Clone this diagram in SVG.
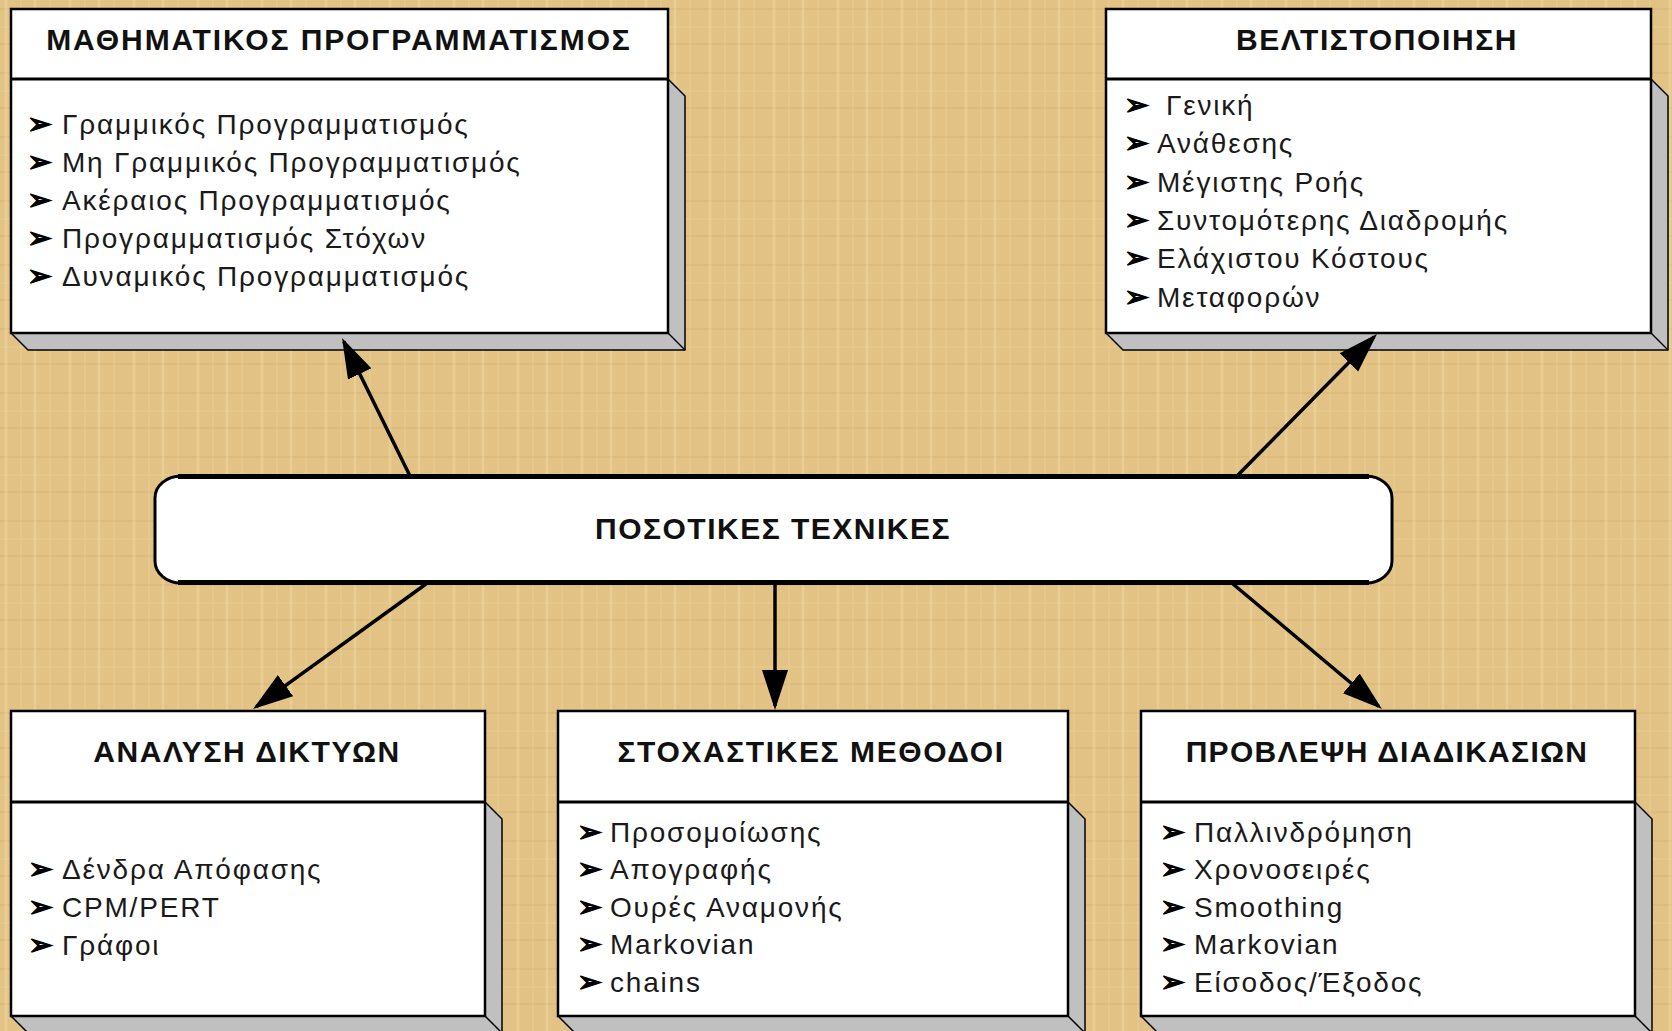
<svg xmlns="http://www.w3.org/2000/svg" width="1672" height="1031" viewBox="0 0 1672 1031">
<style>
.t{font-family:"Liberation Sans",Arial,sans-serif;font-weight:bold;font-size:30px;letter-spacing:1.6px;text-anchor:middle;fill:#111}
.i{font-family:"Liberation Sans",Arial,sans-serif;font-size:28px;letter-spacing:1.8px;fill:#1a1a1a}
.b{font-family:"DejaVu Sans",sans-serif;font-size:30px;fill:#000;stroke:#000;stroke-width:1.3}
.sh{fill:#C0C0C0;stroke:#000;stroke-width:1.5;stroke-linejoin:round}
.bx{fill:#fff;stroke:#000;stroke-width:2.5}
.dv{stroke:#000;stroke-width:3}
.cn{stroke:#000;stroke-width:3.5;fill:none;marker-end:url(#ah)}
</style>
<defs>
<pattern id="pap" width="64" height="64" patternUnits="userSpaceOnUse">
<rect width="64" height="64" fill="#E3C385"/>
<path d="M0 9H64M0 44H64" stroke="#CFAA68" stroke-width="1.5" opacity=".4"/>
<path d="M6 0V64M35 0V64" stroke="#F0DAA5" stroke-width="2.5" opacity=".45"/>
<path d="M0 27H64M21 0V64M50 0V64" stroke="#EDD59E" stroke-width="1.5" opacity=".35"/>
</pattern>
<marker id="ah" markerUnits="userSpaceOnUse" viewBox="0 0 40 28" markerWidth="40" markerHeight="28" refX="36" refY="14" orient="auto">
<path d="M0 1L40 14L0 27Z" fill="#000"/>
</marker>
</defs>
<rect width="1672" height="1031" fill="url(#pap)"/>

<g id="box-math">
<polygon class="sh" points="668,79 685,96 685,350 28,350 11,333"/>
<line x1="668" y1="333" x2="685" y2="350" stroke="#000" stroke-width="1.5"/>
<rect class="bx" x="11" y="9" width="657" height="324"/>
<line class="dv" x1="11" y1="79" x2="668" y2="79"/>
<text class="t" x="339" y="50" style="letter-spacing:1.9px">ΜΑΘΗΜΑΤΙΚΟΣ ΠΡΟΓΡΑΜΜΑΤΙΣΜΟΣ</text>
<text class="b" x="27" y="134">➢</text><text class="i" x="62" y="134">Γραμμικός Προγραμματισμός</text>
<text class="b" x="27" y="172">➢</text><text class="i" x="62" y="172">Μη Γραμμικός Προγραμματισμός</text>
<text class="b" x="27" y="210">➢</text><text class="i" x="62" y="210">Ακέραιος Προγραμματισμός</text>
<text class="b" x="27" y="248">➢</text><text class="i" x="62" y="248">Προγραμματισμός Στόχων</text>
<text class="b" x="27" y="286">➢</text><text class="i" x="62" y="286">Δυναμικός Προγραμματισμός</text>
</g>

<g id="box-opt">
<polygon class="sh" points="1651,79 1668,96 1668,350 1123,350 1106,333"/>
<line x1="1651" y1="333" x2="1668" y2="350" stroke="#000" stroke-width="1.5"/>
<rect class="bx" x="1106" y="9" width="545" height="324"/>
<line class="dv" x1="1106" y1="79" x2="1651" y2="79"/>
<text class="t" x="1377" y="50">ΒΕΛΤΙΣΤΟΠΟΙΗΣΗ</text>
<text class="b" x="1124" y="115">➢</text><text class="i" x="1166" y="115">Γενική</text>
<text class="b" x="1124" y="153">➢</text><text class="i" x="1157" y="153">Ανάθεσης</text>
<text class="b" x="1124" y="192">➢</text><text class="i" x="1157" y="192">Μέγιστης Ροής</text>
<text class="b" x="1124" y="230">➢</text><text class="i" x="1157" y="230">Συντομότερης Διαδρομής</text>
<text class="b" x="1124" y="268">➢</text><text class="i" x="1157" y="268">Ελάχιστου Κόστους</text>
<text class="b" x="1124" y="307">➢</text><text class="i" x="1157" y="307">Μεταφορών</text>
</g>

<g id="box-net">
<polygon class="sh" points="485,802 502,819 502,1033 28,1033 11,1016"/>
<line x1="485" y1="1016" x2="502" y2="1033" stroke="#000" stroke-width="1.5"/>
<rect class="bx" x="11" y="711" width="474" height="305"/>
<line class="dv" x1="11" y1="802" x2="485" y2="802"/>
<text class="t" x="247" y="762">ΑΝΑΛΥΣΗ ΔΙΚΤΥΩΝ</text>
<text class="b" x="28" y="879">➢</text><text class="i" x="62" y="879">Δένδρα Απόφασης</text>
<text class="b" x="28" y="917">➢</text><text class="i" x="62" y="917">CPM/PERT</text>
<text class="b" x="28" y="955">➢</text><text class="i" x="62" y="955">Γράφοι</text>
</g>

<g id="box-stoch">
<polygon class="sh" points="1068,802 1085,819 1085,1033 575,1033 558,1016"/>
<line x1="1068" y1="1016" x2="1085" y2="1033" stroke="#000" stroke-width="1.5"/>
<rect class="bx" x="558" y="711" width="510" height="305"/>
<line class="dv" x1="558" y1="802" x2="1068" y2="802"/>
<text class="t" x="811" y="762">ΣΤΟΧΑΣΤΙΚΕΣ ΜΕΘΟΔΟΙ</text>
<text class="b" x="577" y="842">➢</text><text class="i" x="610" y="842">Προσομοίωσης</text>
<text class="b" x="577" y="879">➢</text><text class="i" x="610" y="879">Απογραφής</text>
<text class="b" x="577" y="917">➢</text><text class="i" x="610" y="917">Ουρές Αναμονής</text>
<text class="b" x="577" y="954">➢</text><text class="i" x="610" y="954">Markovian</text>
<text class="b" x="577" y="992">➢</text><text class="i" x="610" y="992">chains</text>
</g>

<g id="box-forecast">
<polygon class="sh" points="1635,802 1652,819 1652,1033 1158,1033 1141,1016"/>
<line x1="1635" y1="1016" x2="1652" y2="1033" stroke="#000" stroke-width="1.5"/>
<rect class="bx" x="1141" y="711" width="494" height="305"/>
<line class="dv" x1="1141" y1="802" x2="1635" y2="802"/>
<text class="t" x="1387" y="762" style="letter-spacing:1.3px">ΠΡΟΒΛΕΨΗ ΔΙΑΔΙΚΑΣΙΩΝ</text>
<text class="b" x="1160" y="842">➢</text><text class="i" x="1194" y="842">Παλλινδρόμηση</text>
<text class="b" x="1160" y="879">➢</text><text class="i" x="1194" y="879">Χρονοσειρές</text>
<text class="b" x="1160" y="917">➢</text><text class="i" x="1194" y="917">Smoothing</text>
<text class="b" x="1160" y="954">➢</text><text class="i" x="1194" y="954">Markovian</text>
<text class="b" x="1160" y="992">➢</text><text class="i" x="1194" y="992">Είσοδος/Έξοδος</text>
</g>

<g id="connectors">
<line class="cn" x1="410" y1="476" x2="343.8" y2="341.6"/>
<line class="cn" x1="1237" y1="476" x2="1374.2" y2="336.8"/>
<line class="cn" x1="426" y1="584" x2="256.3" y2="706.7"/>
<line class="cn" x1="775" y1="584" x2="775" y2="706"/>
<line class="cn" x1="1233" y1="584" x2="1378.9" y2="706.5"/>
</g>

<g id="center">
<rect x="155" y="476" width="1237" height="107" rx="26" ry="22" fill="#fff" stroke="#000" stroke-width="3"/>
<line x1="178" y1="476.5" x2="1369" y2="476.5" stroke="#000" stroke-width="5"/>
<line x1="178" y1="582.5" x2="1369" y2="582.5" stroke="#000" stroke-width="5"/>
<text class="t" x="773" y="539" style="letter-spacing:1.5px">ΠΟΣΟΤΙΚΕΣ ΤΕΧΝΙΚΕΣ</text>
</g>
</svg>
